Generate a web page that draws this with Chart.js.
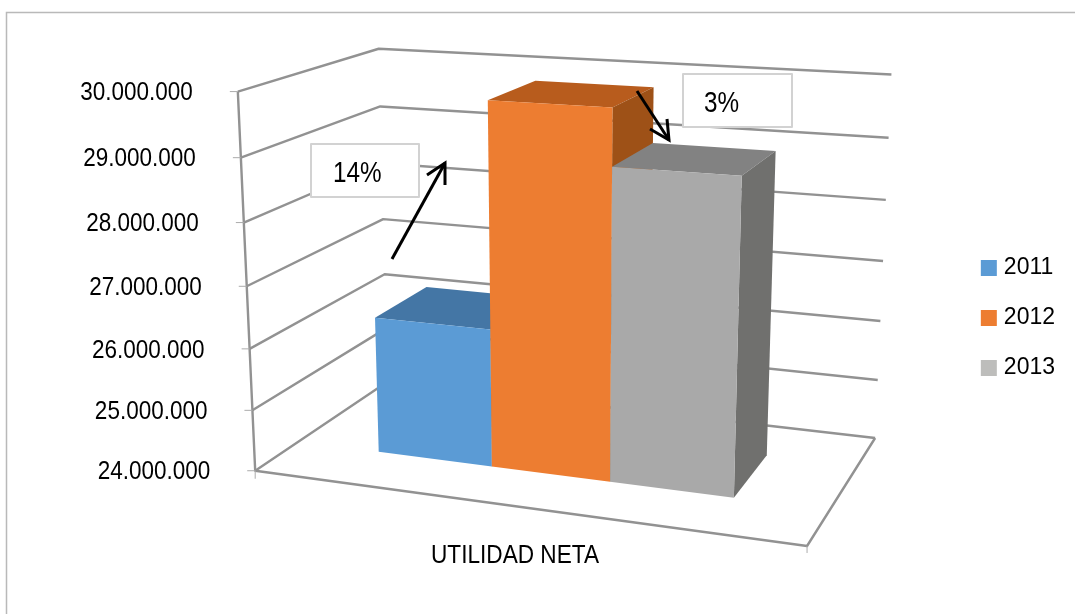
<!DOCTYPE html>
<html>
<head>
<meta charset="utf-8">
<title>Utilidad neta</title>
<script src="https://cdn.jsdelivr.net/npm/chart.js@4"></script>
<style>
    html, body { margin: 0; padding: 0; background: #fff; }
    canvas { display: block; }
</style>
</head>
<body>
<canvas id="utilidad-chart" width="1075" height="614"></canvas>
<script>
const categories = ['UTILIDAD NETA'];
const seriesNames = ['2011', '2012', '2013'];
const values2011 = [26250000];
const values2012 = [29830000];
const values2013 = [28950000];
const tickValues = [24000000, 25000000, 26000000, 27000000, 28000000, 29000000, 30000000];
const tickLabels = ['24.000.000', '25.000.000', '26.000.000', '27.000.000', '28.000.000', '29.000.000', '30.000.000'];
const callouts = ['14%', '3%'];

const legendColors = ['#5B9BD5', '#ED7D31', '#BDBDBB'];
const frontColors = ['#5B9BD5', '#ED7D31', '#A9A9A9'];
const topColors = ['#4476A5', '#B85C1D', '#828282'];
const sideColors = ['#3E6E99', '#9E5117', '#70706E'];

const LINE = '#929292';
const FONT = '"Liberation Sans", Arial, sans-serif';

// where the corners of the 3D box land on the page, used to fit the camera
const frontLeft = [[255, 472], [252.5, 411], [249.5, 349], [247, 286], [244.5, 222], [241, 157], [238, 91]];
const backLeft = [[388, 380], [386, 328], [384, 275], [383, 220], [381, 163], [380, 107], [379, 49]];
const backRight = [[875, 437], [878, 380], [881, 322], [884, 261], [886, 200], [888, 138], [891, 74]];
const frontRightFloor = [806, 546];

const DEPTH_FRONT = 0.30;
const DEPTH_BACK = 0.71;
const BAR_SHIFT = -0.001;

function solve(a, b) {
    const n = b.length;
    for (let i = 0; i < n; i++) {
        let p = i;
        for (let r = i + 1; r < n; r++) {
            if (Math.abs(a[r][i]) > Math.abs(a[p][i])) p = r;
        }
        [a[i], a[p]] = [a[p], a[i]];
        [b[i], b[p]] = [b[p], b[i]];
        for (let r = i + 1; r < n; r++) {
            const f = a[r][i] / a[i][i];
            for (let c = i; c < n; c++) a[r][c] -= f * a[i][c];
            b[r] -= f * b[i];
        }
    }
    const x = new Array(n).fill(0);
    for (let i = n - 1; i >= 0; i--) {
        let s = b[i];
        for (let c = i + 1; c < n; c++) s -= a[i][c] * x[c];
        x[i] = s / a[i][i];
    }
    return x;
}

function fitCamera() {
    const pts = [];
    for (let i = 0; i < 7; i++) {
        pts.push([0, i / 6, 0, frontLeft[i][0], frontLeft[i][1]]);
        pts.push([0, i / 6, 1, backLeft[i][0], backLeft[i][1]]);
        pts.push([1, i / 6, 1, backRight[i][0], backRight[i][1]]);
    }
    pts.push([1, 0, 0, frontRightFloor[0], frontRightFloor[1]]);
    const rows = [];
    const rhs = [];
    pts.forEach(function (p) {
        rows.push([p[0], p[1], p[2], 1, 0, 0, 0, 0, -p[3] * p[0], -p[3] * p[1], -p[3] * p[2]]);
        rhs.push(p[3]);
        rows.push([0, 0, 0, 0, p[0], p[1], p[2], 1, -p[4] * p[0], -p[4] * p[1], -p[4] * p[2]]);
        rhs.push(p[4]);
    });
    const ata = [];
    const atb = [];
    for (let i = 0; i < 11; i++) {
        ata.push(new Array(11).fill(0));
        atb.push(0);
        rows.forEach(function (r, k) {
            for (let j = 0; j < 11; j++) ata[i][j] += r[i] * r[j];
            atb[i] += r[i] * rhs[k];
        });
    }
    return solve(ata, atb);
}

const cam = fitCamera();

function project(u, v, w) {
    const d = cam[8] * u + cam[9] * v + cam[10] * w + 1;
    return [
        (cam[0] * u + cam[1] * v + cam[2] * w + cam[3]) / d,
        (cam[4] * u + cam[5] * v + cam[6] * w + cam[7]) / d,
    ];
}

function polyline(ctx, pts) {
    ctx.beginPath();
    pts.forEach(function (p, i) {
        if (i === 0) ctx.moveTo(p[0], p[1]);
        else ctx.lineTo(p[0], p[1]);
    });
}

function face(ctx, pts, color) {
    polyline(ctx, pts);
    ctx.closePath();
    ctx.fillStyle = color;
    ctx.fill();
}

// the reference text is taller than it is wide
function label(ctx, text, x, y, align, size, squeeze) {
    ctx.save();
    ctx.translate(x, y);
    ctx.scale(squeeze, 1);
    ctx.fillStyle = '#000';
    ctx.font = size + 'px ' + FONT;
    ctx.textAlign = align;
    ctx.textBaseline = 'middle';
    ctx.fillText(text, 0, 0);
    ctx.restore();
}

function arrow(ctx, from, to, headA, headB) {
    ctx.strokeStyle = '#000';
    ctx.lineWidth = 3;
    ctx.lineCap = 'butt';
    ctx.lineJoin = 'miter';
    polyline(ctx, [from, to]);
    ctx.stroke();
    polyline(ctx, [headA, to, headB]);
    ctx.stroke();
}

function callout(ctx, x, y, w, h, text, textX) {
    ctx.fillStyle = '#fff';
    ctx.fillRect(x, y, w, h);
    ctx.strokeStyle = '#D2D2D2';
    ctx.lineWidth = 2;
    ctx.strokeRect(x, y, w, h);
    label(ctx, text, textX, y + h / 2 + 3, 'left', 30, 0.81);
}

const box3d = {
    id: 'box3d',
    beforeDatasetsDraw(chart) {
        const ctx = chart.ctx;
        const area = chart.chartArea;
        const y = chart.scales.y;
        ctx.save();

        // page frame
        ctx.strokeStyle = '#B9B9B9';
        ctx.lineWidth = 1.5;
        polyline(ctx, [[6.5, 614], [6.5, 12.5], [1075, 12.5]]);
        ctx.stroke();

        // walls and gridlines
        ctx.strokeStyle = LINE;
        ctx.lineWidth = 2.4;
        ctx.lineJoin = 'round';
        y.ticks.forEach(function (tick) {
            const v = (area.bottom - y.getPixelForValue(tick.value)) / area.height;
            polyline(ctx, [project(0, v, 0), project(0, v, 1), project(1, v, 1)]);
            ctx.stroke();
        });
        polyline(ctx, [project(0, 1, 0), project(0, 0, 0), project(1, 0, 0), project(1, 0, 1)]);
        ctx.stroke();

        // tick marks and value labels
        y.ticks.forEach(function (tick) {
            const v = (area.bottom - y.getPixelForValue(tick.value)) / area.height;
            const p = project(0, v, 0);
            ctx.strokeStyle = '#ABABAB';
            ctx.lineWidth = 1;
            polyline(ctx, [[p[0] - 8, p[1]], p]);
            ctx.stroke();
            label(ctx, tick.label, p[0] - 45, p[1] + 1.5, 'right', 26, 0.865);
        });
        const a = project(0, 0, 0);
        const b = project(1, 0, 0);
        polyline(ctx, [a, [a[0], a[1] + 8]]);
        ctx.stroke();
        polyline(ctx, [b, [b[0], b[1] + 7]]);
        ctx.stroke();

        // bars, left to right so the nearer faces overlap correctly
        chart.data.datasets.forEach(function (ds, i) {
            const el = chart.getDatasetMeta(i).data[0];
            const u0 = (el.x - el.width / 2 - area.left) / area.width + BAR_SHIFT;
            const u1 = (el.x + el.width / 2 - area.left) / area.width + BAR_SHIFT;
            const v0 = (area.bottom - el.base) / area.height;
            const v1 = (area.bottom - el.y) / area.height;
            const f = DEPTH_FRONT;
            const k = DEPTH_BACK;
            face(ctx, [project(u0, v1, f), project(u1, v1, f), project(u1, v1, k), project(u0, v1, k)], topColors[i]);
            face(ctx, [project(u1, v0, f), project(u1, v0, k), project(u1, v1, k), project(u1, v1, f)], sideColors[i]);
            face(ctx, [project(u0, v0, f), project(u1, v0, f), project(u1, v1, f), project(u0, v1, f)], frontColors[i]);
        });

        // category label under the floor
        label(ctx, chart.data.labels[0], 515, 556, 'center', 26, 0.87);

        // call-outs added on top of the chart
        callout(ctx, 311, 144, 108, 53, callouts[0], 333);
        callout(ctx, 683, 74, 109, 53, callouts[1], 704);
        arrow(ctx, [392, 259], [445, 163], [427, 175], [445, 185]);
        arrow(ctx, [637, 91], [669, 140], [650, 129], [667, 119]);

        ctx.restore();
        return false;
    },
};

function seriesDataset(i, values) {
    // the thick outline makes the small legend box 16px with a tight gap to its text
    return {
        label: seriesNames[i],
        data: values,
        base: tickValues[0],
        backgroundColor: legendColors[i],
        borderColor: legendColors[i],
        borderWidth: 9,
    };
}

new Chart(document.getElementById('utilidad-chart'), {
    type: 'bar',
    data: {
        labels: categories,
        datasets: [
            seriesDataset(0, values2011),
            seriesDataset(1, values2012),
            seriesDataset(2, values2013),
        ],
    },
    options: {
        responsive: false,
        animation: false,
        layout: { padding: { top: 22, right: 10 } },
        datasets: {
            bar: { barPercentage: 1, categoryPercentage: 0.67 },
        },
        plugins: {
            tooltip: { enabled: false },
            legend: {
                position: 'right',
                labels: {
                    boxWidth: 7,
                    boxHeight: 7,
                    padding: 27,
                    color: '#000',
                    font: { family: FONT, size: 23 },
                },
            },
        },
        scales: {
            x: {
                ticks: { display: false },
                grid: { display: false },
                border: { display: false },
            },
            y: {
                min: tickValues[0],
                max: tickValues[6],
                afterBuildTicks: function (axis) {
                    axis.ticks = tickValues.map(function (v) {
                        return { value: v };
                    });
                },
                ticks: {
                    display: false,
                    callback: function (value) {
                        return tickLabels[tickValues.indexOf(value)];
                    },
                },
                grid: { display: false },
                border: { display: false },
            },
        },
    },
    plugins: [box3d],
});
</script>
</body>
</html>
